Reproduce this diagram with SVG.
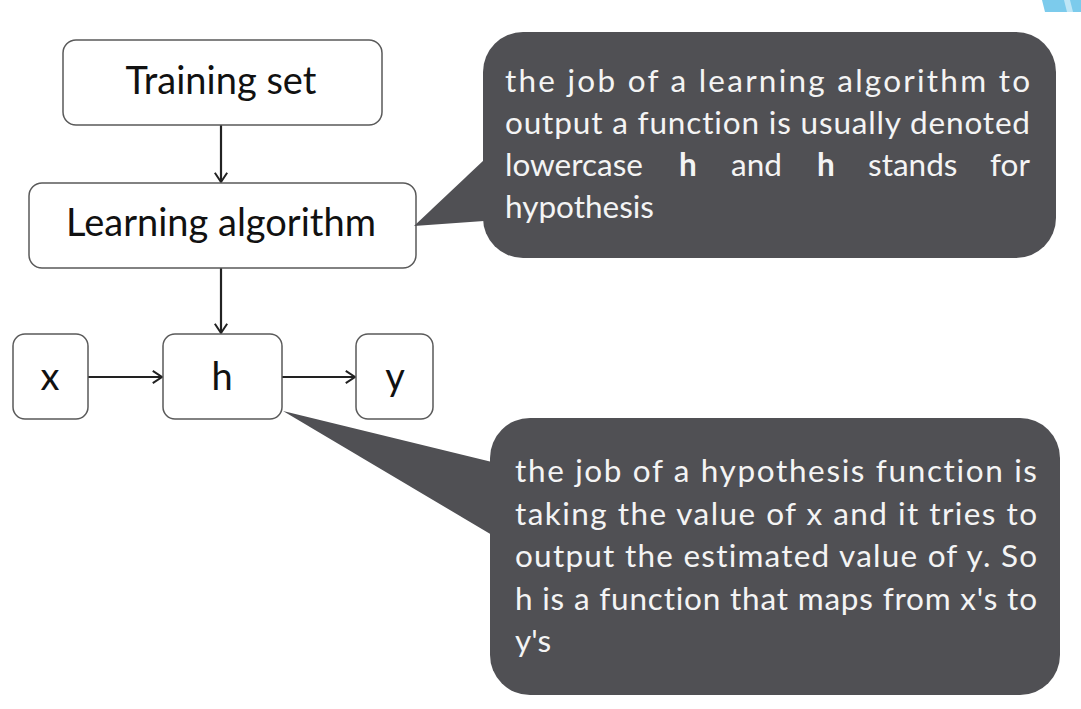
<svg xmlns="http://www.w3.org/2000/svg" width="1081" height="709" viewBox="0 0 1081 709">
<style>
.box{fill:#fff;stroke:#5a5a5a;stroke-width:1.5}
.lbl{font-family:Lato,"Liberation Sans",sans-serif;font-size:38px;fill:#111;text-anchor:middle}
.call{fill:#505054}
.ct{font-family:Lato,"Liberation Sans",sans-serif;font-size:31.5px;fill:#f4f4f4;font-variant-ligatures:none;font-feature-settings:"liga" 0,"clig" 0,"dlig" 0,"calt" 0}
.b{font-weight:bold}
.con{stroke:#222;stroke-width:2.2;fill:none;marker-end:url(#arr)}
</style>
<defs>
<marker id="arr" viewBox="0 0 10 10" refX="9" refY="5" markerWidth="7" markerHeight="7" markerUnits="strokeWidth" orient="auto">
<path d="M3,1 L9,5 L3,9" fill="none" stroke="#222" stroke-width="1.3"/>
</marker>
</defs>
<rect width="1081" height="709" fill="#fff"/>
<polygon points="1042,0 1081,0 1081,12 1045,12" fill="#7ccbec"/>
<polygon points="1064,0 1070,0 1073,12 1067,12" fill="#bfe6f6"/>

<g id="connectors">
<line class="con" x1="221" y1="125" x2="221" y2="182"/>
<line class="con" x1="221" y1="268" x2="221" y2="333"/>
<line class="con" x1="88" y1="377" x2="162" y2="377"/>
<line class="con" x1="282" y1="377" x2="355" y2="377"/>
</g>

<g id="training-set">
<rect class="box" x="63" y="40" width="319" height="85" rx="13"/>
<text class="lbl" x="221" y="94">Training set</text>
</g>
<g id="learning-algorithm">
<rect class="box" x="29" y="183" width="387" height="85" rx="13"/>
<text class="lbl" x="221" y="236">Learning algorithm</text>
</g>
<g id="x">
<rect class="box" x="13" y="334" width="75" height="85" rx="12"/>
<text class="lbl" x="50" y="390">x</text>
</g>
<g id="h">
<rect class="box" x="163" y="334" width="119" height="85" rx="12"/>
<text class="lbl" x="222" y="390">h</text>
</g>
<g id="y">
<rect class="box" x="356" y="334" width="77" height="85" rx="12"/>
<text class="lbl" x="395" y="390">y</text>
</g>

<g id="callout-1">
<rect class="call" x="483" y="32" width="573" height="226" rx="40"/>
<polygon class="call" points="484,160 414,226 484,221"/>
<text class="ct" x="505" y="92" textLength="525" lengthAdjust="spacing">the job of a learning algorithm to</text>
<text class="ct" x="505" y="134" textLength="525" lengthAdjust="spacing">output a function is usually denoted</text>
<text class="ct" y="176"><tspan x="505">lowercase</tspan><tspan x="679" class="b">h</tspan><tspan x="731">and</tspan><tspan x="817" class="b">h</tspan><tspan x="868">stands</tspan><tspan x="990">for</tspan></text>
<text class="ct" x="505" y="218">hypothesis</text>
</g>

<g id="callout-2">
<rect class="call" x="490" y="418" width="570" height="277" rx="40"/>
<polygon class="call" points="492,462 283,411 492,535"/>
<text class="ct" x="515" y="482" textLength="522" lengthAdjust="spacing">the job of a hypothesis function is</text>
<text class="ct" x="515" y="525" textLength="522" lengthAdjust="spacing">taking the value of x and it tries to</text>
<text class="ct" x="515" y="567" textLength="522" lengthAdjust="spacing">output the estimated value of y. So</text>
<text class="ct" x="515" y="610" textLength="522" lengthAdjust="spacing">h is a function that maps from x's to</text>
<text class="ct" x="515" y="652">y's</text>
</g>
</svg>
